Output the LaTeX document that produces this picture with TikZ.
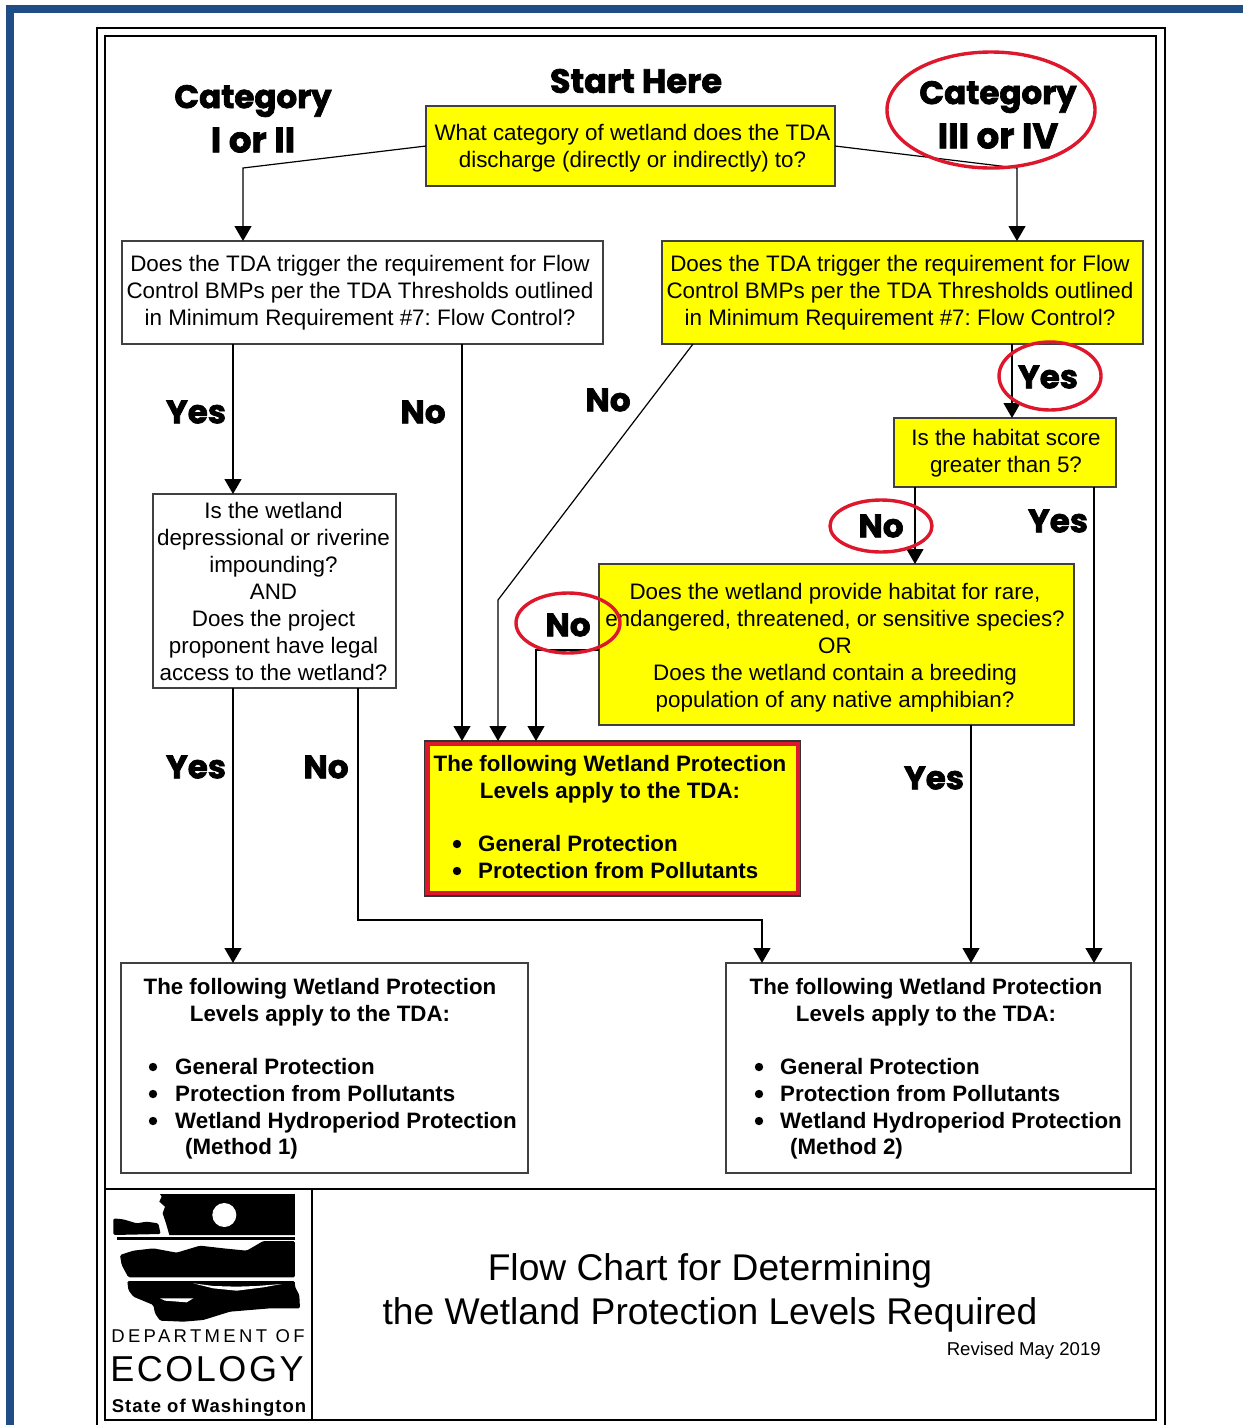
\documentclass[tikz,border=0pt]{standalone}
\usepackage{fontspec}
\setmainfont{Liberation Sans}
\newfontfamily\headfont[FakeBold=2]{Poppins Bold}
\usetikzlibrary{arrows.meta}
\definecolor{navy}{RGB}{31,78,135}
\definecolor{ringred}{RGB}{222,24,44}
\definecolor{qyellow}{RGB}{255,255,0}
\tikzset{
  qbox/.style={draw=black!75,line width=1.3pt,inner sep=0pt,anchor=north west,outer sep=0pt},
  ybox/.style={qbox,fill=qyellow},
  qtext/.style={align=center,inner sep=0pt,font=\frenchspacing\fontsize{22.4}{27}\selectfont},
  head/.style={font=\headfont\fontsize{32.5}{36}\selectfont,inner sep=0pt},
  headbig/.style={font=\headfont\fontsize{35.5}{38}\selectfont,inner sep=0pt},
  ring/.style={draw=ringred,line width=3.4pt},
  btext/.style={inner sep=0pt,font=\bfseries\fontsize{22.3}{27}\selectfont,align=center},
  ltext/.style={inner sep=0pt,anchor=base west,font=\bfseries\fontsize{22.3}{27}\selectfont},
  conn/.style={draw=black,line width=1.2pt,-{Triangle[width=17pt,length=15pt]}},
  frm/.style={draw=black,line width=2.6pt},
  dot/.style={fill=black},
}
\begin{document}
\begin{tikzpicture}[x=1pt,y=-1pt]
\useasboundingbox (0,0) rectangle (1243,1425);
\fill[white] (0,0) rectangle (1243,1425);
% blue page edge
\fill[navy] (6,5) rectangle (1243,13);
\fill[navy] (6,5) rectangle (14,1425);
% frames
\draw[frm] (97,1430) -- (97,28) -- (1165,28) -- (1165,1430);
\draw[frm] (105,1420) rectangle (1156,36);
\draw[frm] (105,1189) -- (1156,1189);
\draw[frm] (312,1189) -- (312,1420);

% boxes
\node[ybox,minimum width=409pt,minimum height=80pt] (q0) at (426,106) {};
\node[qtext,xshift=2pt,yshift=-2pt] (q0t) at (q0.center) {What category of wetland does the TDA\\discharge (directly or indirectly) to?};
\node[qbox,minimum width=481pt,minimum height=103pt] (b1) at (122,241) {};
\node[qtext,xshift=-2.5pt] (b1t) at (b1.center) {Does the TDA trigger the requirement for Flow\\Control BMPs per the TDA Thresholds outlined\\in Minimum Requirement \#7: Flow Control?};
\node[ybox,minimum width=481pt,minimum height=103pt] (b2) at (662,241) {};
\node[qtext,xshift=-2.5pt] (b2t) at (b2.center) {Does the TDA trigger the requirement for Flow\\Control BMPs per the TDA Thresholds outlined\\in Minimum Requirement \#7: Flow Control?};
\node[ybox,minimum width=222pt,minimum height=69pt] (hs) at (894,418) {};
\node[qtext,xshift=1pt,yshift=-1pt] (hst) at (hs.center) {Is the habitat score\\greater than 5?};
\node[qbox,minimum width=243pt,minimum height=194pt] (wt) at (153,494) {};
\node[qtext,xshift=-1pt] (wtt) at (wt.center) {Is the wetland\\depressional or riverine\\impounding?\\AND\\Does the project\\proponent have legal\\access to the wetland?};
\node[ybox,minimum width=475pt,minimum height=161pt] (rare) at (599,564) {};
\node[qtext,xshift=-1.5pt,yshift=-3pt] (raret) at (rare.center) {Does the wetland provide habitat for rare,\\endangered, threatened, or sensitive species?\\OR\\Does the wetland contain a breeding\\population of any native amphibian?};
\node[anchor=north west,fill=qyellow,draw=ringred,line width=5pt,minimum width=371pt,minimum height=150pt,inner sep=0pt] (rb) at (424.5,741) {};
\draw[black!80,line width=1.2pt] (rb.north west) rectangle (rb.south east);
\node[qbox,minimum width=407pt,minimum height=210pt] (lb) at (121,963) {};
\node[qbox,minimum width=405pt,minimum height=210pt] (rr) at (726,963) {};

% text in result boxes
\node[btext] (rbt) at (610,779) {The following Wetland Protection\\Levels apply to the TDA:};
\node[ltext] (rb1) at (478,851) {General Protection};
\node[ltext] (rb2) at (478,878) {Protection from Pollutants};
\fill[dot] (457,844) circle [radius=4.2];
\fill[dot] (457,871) circle [radius=4.2];

\node[btext] (lbt) at (320,1002) {The following Wetland Protection\\Levels apply to the TDA:};
\node[ltext] (lb1) at (175,1074) {General Protection};
\node[ltext] (lb2) at (175,1101) {Protection from Pollutants};
\node[ltext] (lb3) at (175,1128) {Wetland Hydroperiod Protection};
\node[ltext] (lb4) at (185,1154) {(Method 1)};
\fill[dot] (153,1067) circle [radius=4.2];
\fill[dot] (153,1094) circle [radius=4.2];
\fill[dot] (153,1121) circle [radius=4.2];

\node[btext] (rrt) at (926,1002) {The following Wetland Protection\\Levels apply to the TDA:};
\node[ltext] (rr1) at (780,1074) {General Protection};
\node[ltext] (rr2) at (780,1101) {Protection from Pollutants};
\node[ltext] (rr3) at (780,1128) {Wetland Hydroperiod Protection};
\node[ltext] (rr4) at (790,1154) {(Method 2)};
\fill[dot] (759,1067) circle [radius=4.2];
\fill[dot] (759,1094) circle [radius=4.2];
\fill[dot] (759,1121) circle [radius=4.2];

% connector bends and columns
\coordinate (k1) at (243,168);
\coordinate (k2) at (1017,168);
\coordinate (c233) at (233,0);
\coordinate (c462) at (462,0);
\coordinate (c693) at (693,0);
\coordinate (k3) at (498,600);
\coordinate (c1012) at (1012,0);
\coordinate (c915) at (915,0);
\coordinate (c1094) at (1094,0);
\coordinate (c358) at (358,0);
\coordinate (k4) at (358,920);
\coordinate (k5) at (762,920);
\coordinate (c971) at (971,0);
\coordinate (k6) at (536,650);

\draw[conn] (q0.west) -- (k1) -- (k1 |- b1.north);
\draw[conn] (q0.east) -- (k2) -- (k2 |- b2.north);
\draw[conn] (c233 |- b1.south) -- (c233 |- wt.north);
\draw[conn] (c462 |- b1.south) -- (c462 |- rb.north);
\draw[conn] (c693 |- b2.south) -- (k3) -- (k3 |- rb.north);
\draw[conn] (c1012 |- b2.south) -- (c1012 |- hs.north);
\draw[conn] (c915 |- hs.south) -- (c915 |- rare.north);
\draw[conn] (c1094 |- hs.south) -- (c1094 |- rr.north);
\draw[conn] (rare.west |- k6) -- (k6) -- (k6 |- rb.north);
\draw[conn] (c233 |- wt.south) -- (c233 |- lb.north);
\draw[conn] (c358 |- wt.south) -- (k4) -- (k5) -- (k5 |- rr.north);
\draw[conn] (c971 |- rare.south) -- (c971 |- rr.north);

% headings
\node[head,font=\headfont\fontsize{33.5}{36}\selectfont] (hstart) at (636,81) {Start Here};
\node[head] (hcat1) at (253,101) {Category};
\node[headbig] (hcat1b) at (253,140) {I or II};
\node[head] (hcat2) at (998,97) {Category};
\node[headbig] (hcat2b) at (998,136) {III or IV};
\node[head] (y1) at (196,412) {Yes};
\node[head] (n1) at (423,412) {No};
\node[head] (n2) at (608,400) {No};
\node[head] (y2) at (1048,377) {Yes};
\node[head] (n3) at (881,526) {No};
\node[head] (y3) at (1058,521) {Yes};
\node[head] (n4) at (568,625) {No};
\node[head] (y4) at (196,767) {Yes};
\node[head] (n5) at (326,767) {No};
\node[head] (y5) at (934,778) {Yes};

% red rings
\draw[ring] (991,110) ellipse [x radius=104pt,y radius=58pt];
\draw[ring] (1050,376) ellipse [x radius=51pt,y radius=34pt];
\draw[ring] (881,526) ellipse [x radius=51pt,y radius=26pt];
\draw[ring] (568,623) ellipse [x radius=52pt,y radius=30pt];

% logo
\begin{scope}[shift={(90,1180)},x=0.3333pt,y=-0.3333pt]
\fill[black] (210,42) -- (615,42) -- (615,165) -- (238,165) -- (228,130) -- (218,100) -- (225,80) -- (208,65) -- (215,50) -- cycle;
\fill[white] (403,105) circle [radius=36];
\fill[black,rounded corners=1.5pt] (70,115) -- (100,118) -- (140,130) -- (170,125) -- (205,130) -- (212,162) -- (70,165) -- cycle;
\fill[black] (80,172) rectangle (615,180);
\fill[black,rounded corners=1.5pt] (90,225) -- (130,212) -- (190,205) -- (260,218) -- (330,197) -- (400,205) -- (470,212) -- (520,183) -- (615,183) -- (615,292) -- (115,292) -- (95,255) -- cycle;
\fill[black,rounded corners=1.5pt] (112,303) -- (615,303) -- (615,320) -- (628,345) -- (630,385) -- (540,385) -- (480,390) -- (420,395) -- (340,420) -- (280,425) -- (210,422) -- (195,400) -- (190,375) -- (130,350) -- (115,330) -- cycle;
\fill[white] (310,310) -- (370,325) -- (440,332) -- (520,322) -- (575,312) -- (500,318) -- (440,320) -- (370,318) -- cycle;
\fill[white] (210,355) -- (310,355) -- (290,367) -- (225,362) -- cycle;
\end{scope}
\node[inner sep=0pt,font=\fontsize{18.5}{20}\selectfont] (dep) at (208,1336) {\addfontfeature{LetterSpace=18}DEPARTMENT OF};
\node[inner sep=0pt,font=\fontsize{36}{40}\selectfont] (eco) at (207,1369) {\addfontfeature{LetterSpace=7}ECOLOGY};
\node[inner sep=0pt,font=\bfseries\fontsize{18.5}{20}\selectfont] (sta) at (209,1408) {\addfontfeature{LetterSpace=5.5}State of Washington};

% title
\node[inner sep=0pt,font=\fontsize{37.2}{44}\selectfont,align=center] (title) at (710,1293) {Flow Chart for Determining\\the Wetland Protection Levels Required};
\node[inner sep=0pt,anchor=east,font=\fontsize{18.6}{22}\selectfont] (rev) at (1101,1351) {Revised May 2019};
\end{tikzpicture}
\end{document}
